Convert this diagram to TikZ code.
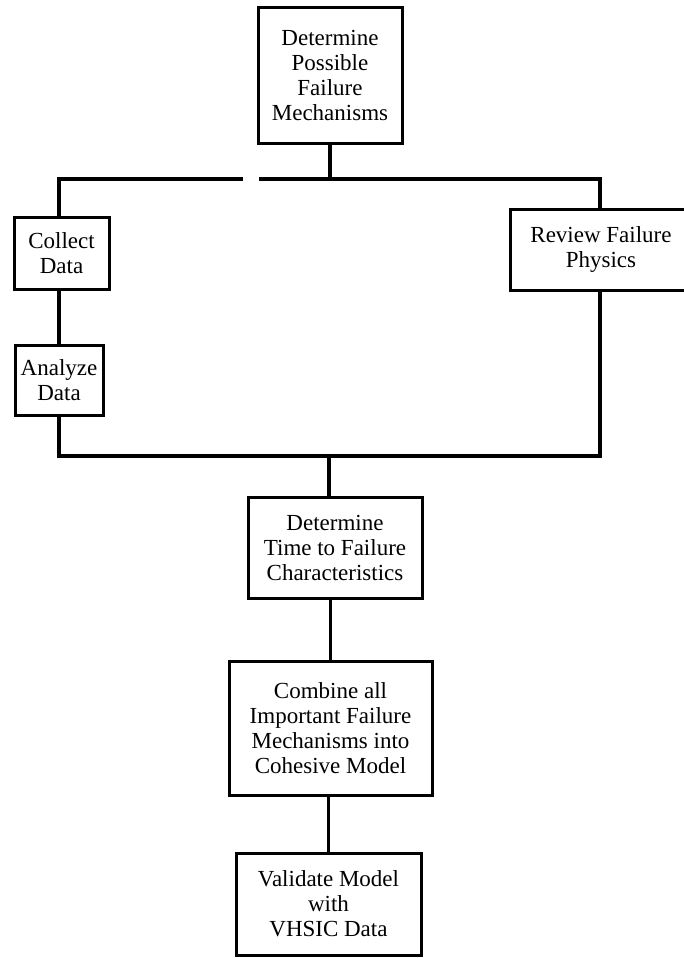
\documentclass[tikz,border=0pt]{standalone}
\usepackage{fontspec}
\setmainfont{Liberation Serif}
\begin{document}
\begin{tikzpicture}[x=1pt,y=-1pt,
  box/.style={draw, line width=3pt, rectangle, inner sep=0pt, align=center,
    font=\fontsize{23}{25}\selectfont},
  conn/.style={line width=3.5pt}]
\useasboundingbox (0,0) rectangle (684,958);
\clip (0,0) rectangle (684,958);
\node[box, minimum width=144, minimum height=135] (top) at (330,75.5)
  {Determine\\Possible\\Failure\\Mechanisms};
\node[box, minimum width=95, minimum height=72] (collect) at (61.5,253)
  {Collect\\Data};
\node[box, minimum width=88, minimum height=70] (analyze) at (59,380)
  {Analyze\\Data};
\node[box, minimum width=182, minimum height=81] (review) at (601,249.5)
  {Review Failure\\Physics};
\node[box, minimum width=174, minimum height=101] (time) at (335,547.5)
  {Determine\\Time to Failure\\Characteristics};
\node[box, minimum width=203, minimum height=134] (combine) at (330.5,728)
  {Combine all\\Important Failure\\Mechanisms into\\Cohesive Model};
\node[box, minimum width=185, minimum height=102] (validate) at (328.5,904)
  {Validate Model\\with\\VHSIC Data};
% junction coordinates
\coordinate (tl) at (59,179);
\coordinate (tr) at (600,179);
\coordinate (gapl) at (243,179);
\coordinate (gapr) at (259,179);
\coordinate (bl) at (59,456);
\coordinate (br) at (600,456);
\coordinate (bm) at (329,456);
% top split
\draw[conn] (top.south) -- (top.south |- tl);
\draw[conn] (collect.north -| tl) -- (tl) -- (gapl);
\draw[conn] (gapr) -- (tr) -- (review.north -| tr);
% left chain
\draw[conn] (collect.south -| tl) -- (analyze.north -| tl);
\draw[conn] (analyze.south -| bl) -- (bl) -- (br) -- (review.south -| br);
% merge
\draw[conn] (bm) -- (time.north -| bm);
\draw[conn] (combine.north) -- (combine.north |- time.south);
\draw[conn] (validate.north) -- (validate.north |- combine.south);
\end{tikzpicture}
\end{document}
